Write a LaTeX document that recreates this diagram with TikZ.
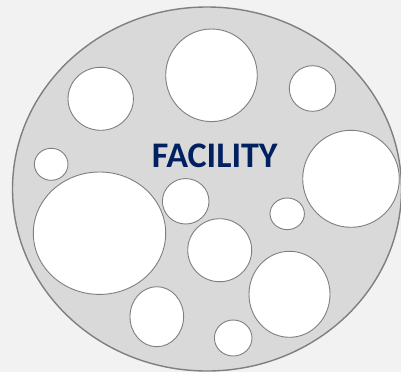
\documentclass[tikz,border=0pt]{standalone}
\usepackage{fontspec}
\setmainfont{Carlito}
\begin{document}
\begin{tikzpicture}[x=1pt,y=-1pt,
  hole/.style={draw=borderGray,fill=white,line width=0.9pt},
  lbl/.style={font=\fontsize{36}{40}\selectfont\bfseries,text=navy,inner sep=0pt}]
\definecolor{bgGray}{HTML}{F2F2F2}
\definecolor{fillGray}{HTML}{D9D9D9}
\definecolor{borderGray}{HTML}{7F7F7F}
\definecolor{navy}{HTML}{002060}
\fill[bgGray] (0,0) rectangle (401,372);
\useasboundingbox (0,0) rectangle (401,372);
\draw[draw=borderGray,fill=fillGray,line width=1.4pt] (207,189) ellipse [x radius=194.5, y radius=182];
\draw[hole] (211.5,75.3) ellipse [x radius=45.8, y radius=46.3];
\draw[hole] (100.7,98.8) ellipse [x radius=32.7, y radius=31.5];
\draw[hole] (312.5,88.5) ellipse [x radius=23.2, y radius=22.8];
\draw[hole] (51.2,164.3) ellipse [x radius=16.8, y radius=16];
\draw[hole] (351,178.8) ellipse [x radius=48.3, y radius=48.5];
\draw[hole] (99.5,233.2) ellipse [x radius=66.2, y radius=61.2];
\draw[hole] (185.7,201.3) ellipse [x radius=23.3, y radius=22.7];
\draw[hole] (287.2,213.8) ellipse [x radius=17.2, y radius=15.8];
\draw[hole] (219.7,250.2) ellipse [x radius=32, y radius=31.5];
\draw[hole] (289.5,294.3) ellipse [x radius=40.5, y radius=43];
\draw[hole] (156.8,316.7) ellipse [x radius=26.8, y radius=30];
\draw[hole] (233.2,338) ellipse [x radius=18.8, y radius=18];
\node[lbl,anchor=base] (title) at (214.7,167.7) {FACILITY};
\end{tikzpicture}
\end{document}
